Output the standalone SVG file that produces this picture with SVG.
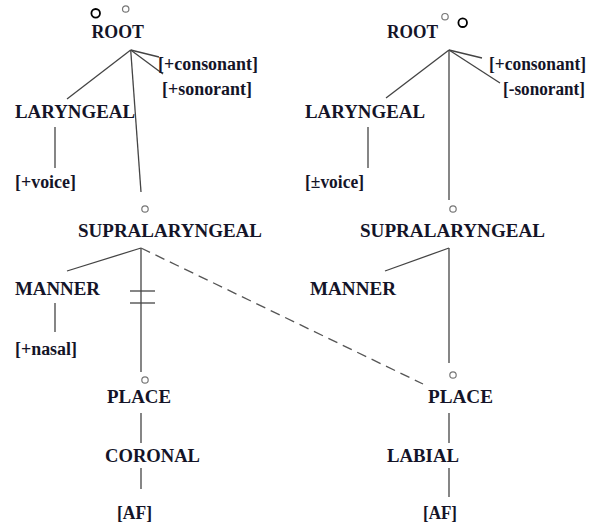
<svg xmlns="http://www.w3.org/2000/svg" width="598" height="524" viewBox="0 0 598 524">
  <style>
    text { font-family: 'Liberation Serif', 'Times New Roman', serif; font-weight: bold; font-size: 18.5px; fill: #141428; }
    .ln { stroke: #444; stroke-width: 1.3; fill: none; }
    .dash { stroke: #555; stroke-width: 1.3; fill: none; stroke-dasharray: 10 6; }
    .o-dark { stroke: #000; stroke-width: 1.8; fill: none; }
    .o-light { stroke: #777; stroke-width: 1.2; fill: none; }
  </style>
  <rect width="598" height="524" fill="#fff"/>

  <!-- connectors -->
  <g id="connectors">
    <!-- left tree -->
    <line class="ln" x1="130.7" y1="50" x2="67" y2="99"/>
    <line class="ln" x1="130.7" y1="50" x2="159" y2="57"/>
    <line class="ln" x1="130.7" y1="50" x2="163" y2="74"/>
    <line class="ln" x1="130.7" y1="50" x2="141" y2="192"/>
    <line class="ln" x1="55" y1="127" x2="55" y2="168"/>
    <line class="ln" x1="141" y1="248" x2="67" y2="271"/>
    <line class="ln" x1="55" y1="303" x2="55" y2="332"/>
    <line class="ln" x1="141" y1="248" x2="141" y2="372"/>
    <line class="ln" x1="130" y1="291" x2="155" y2="291"/>
    <line class="ln" x1="130" y1="303" x2="155" y2="303"/>
    <line class="ln" x1="141" y1="413" x2="141" y2="443"/>
    <line class="ln" x1="141" y1="468" x2="141" y2="489"/>
    <line class="dash" x1="141" y1="248" x2="423" y2="384"/>
    <!-- right tree -->
    <line class="ln" x1="449" y1="50" x2="386" y2="98"/>
    <line class="ln" x1="449" y1="50" x2="482" y2="58"/>
    <line class="ln" x1="449" y1="50" x2="500" y2="83"/>
    <line class="ln" x1="449" y1="50" x2="449" y2="200"/>
    <line class="ln" x1="368" y1="127" x2="368" y2="168"/>
    <line class="ln" x1="449" y1="248" x2="385" y2="271"/>
    <line class="ln" x1="449" y1="248" x2="449" y2="363"/>
    <line class="ln" x1="449" y1="413" x2="449" y2="443"/>
    <line class="ln" x1="449" y1="468" x2="449" y2="497"/>
  </g>

  <!-- left tree nodes -->
  <g id="root-left">
    <circle class="o-dark" cx="95.7" cy="13.3" r="4.3"/>
    <circle class="o-light" cx="125.7" cy="9" r="3.2"/>
    <text x="91.5" y="38" textLength="52.5" lengthAdjust="spacingAndGlyphs">ROOT</text>
  </g>
  <g id="consonant-left"><text x="158" y="70" textLength="100" lengthAdjust="spacingAndGlyphs">[+consonant]</text></g>
  <g id="sonorant-left"><text x="162" y="95" textLength="90" lengthAdjust="spacingAndGlyphs">[+sonorant]</text></g>
  <g id="laryngeal-left"><text x="15" y="118" textLength="120" lengthAdjust="spacingAndGlyphs">LARYNGEAL</text></g>
  <g id="voice-left"><text x="15" y="188" textLength="61" lengthAdjust="spacingAndGlyphs">[+voice]</text></g>
  <g id="supralaryngeal-left">
    <circle class="o-light" cx="145" cy="209" r="3.2"/>
    <text x="78" y="237" textLength="184" lengthAdjust="spacingAndGlyphs">SUPRALARYNGEAL</text>
  </g>
  <g id="manner-left"><text x="15" y="295" textLength="85" lengthAdjust="spacingAndGlyphs">MANNER</text></g>
  <g id="nasal-left"><text x="15" y="355" textLength="62" lengthAdjust="spacingAndGlyphs">[+nasal]</text></g>
  <g id="place-left">
    <circle class="o-light" cx="145" cy="380" r="3.2"/>
    <text x="107" y="403" textLength="64" lengthAdjust="spacingAndGlyphs">PLACE</text>
  </g>
  <g id="coronal-left"><text x="105" y="462" textLength="95" lengthAdjust="spacingAndGlyphs">CORONAL</text></g>
  <g id="af-left"><text x="117" y="519" textLength="35" lengthAdjust="spacingAndGlyphs">[AF]</text></g>

  <!-- right tree nodes -->
  <g id="root-right">
    <circle class="o-light" cx="445" cy="16.7" r="3.2"/>
    <circle class="o-dark" cx="462.7" cy="22.7" r="4.3"/>
    <text x="387" y="37.5" textLength="51" lengthAdjust="spacingAndGlyphs">ROOT</text>
  </g>
  <g id="consonant-right"><text x="489" y="70" textLength="97" lengthAdjust="spacingAndGlyphs">[+consonant]</text></g>
  <g id="sonorant-right"><text x="503" y="95" textLength="82" lengthAdjust="spacingAndGlyphs">[-sonorant]</text></g>
  <g id="laryngeal-right"><text x="305" y="118" textLength="120" lengthAdjust="spacingAndGlyphs">LARYNGEAL</text></g>
  <g id="voice-right"><text x="305" y="188" textLength="59" lengthAdjust="spacingAndGlyphs">[±voice]</text></g>
  <g id="supralaryngeal-right">
    <circle class="o-light" cx="453" cy="209" r="3.2"/>
    <text x="360" y="237" textLength="185" lengthAdjust="spacingAndGlyphs">SUPRALARYNGEAL</text>
  </g>
  <g id="manner-right"><text x="310" y="295" textLength="86" lengthAdjust="spacingAndGlyphs">MANNER</text></g>
  <g id="place-right">
    <circle class="o-light" cx="453" cy="375" r="3.2"/>
    <text x="428" y="403" textLength="65" lengthAdjust="spacingAndGlyphs">PLACE</text>
  </g>
  <g id="labial-right"><text x="387" y="462" textLength="72" lengthAdjust="spacingAndGlyphs">LABIAL</text></g>
  <g id="af-right"><text x="423" y="519" textLength="34" lengthAdjust="spacingAndGlyphs">[AF]</text></g>
</svg>
